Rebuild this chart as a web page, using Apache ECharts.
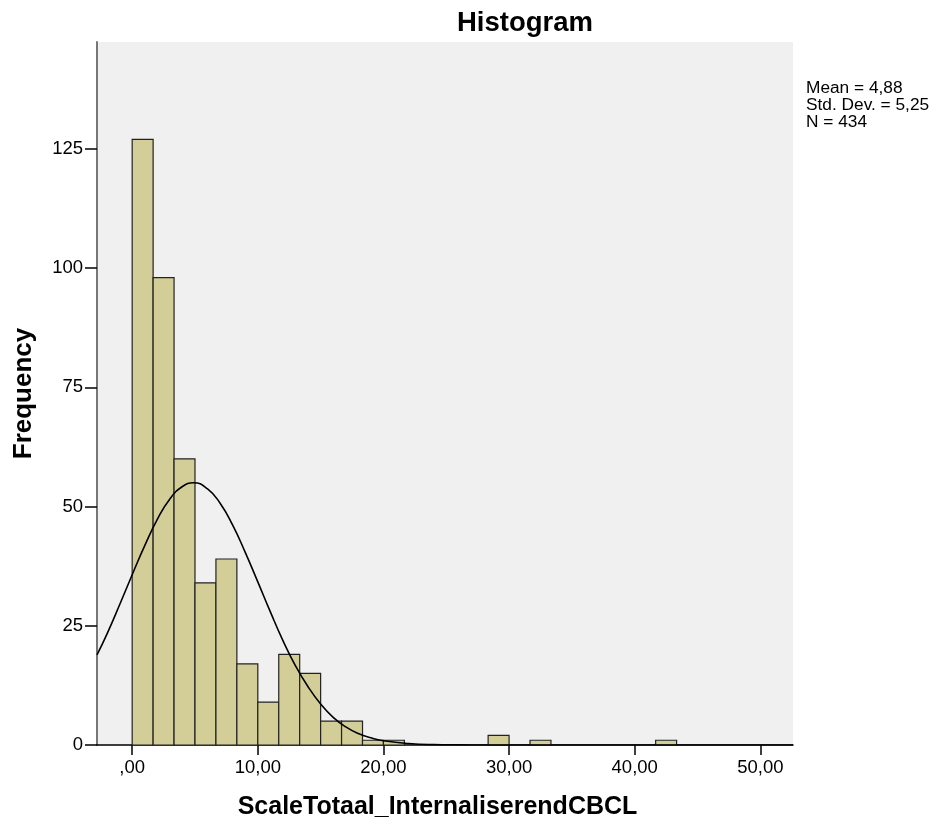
<!DOCTYPE html>
<html>
<head>
<meta charset="utf-8">
<script src="https://cdn.jsdelivr.net/npm/echarts@6/dist/echarts.min.js"></script>
<style>html,body{margin:0;padding:0;background:#fff}#c{width:942px;height:827px}</style>
</head>
<body>
<div id="c"></div>
<script>
// Histogram bins: [start, end] and frequency
var binStarts = [0, 1.667, 3.333, 5, 6.667, 8.333, 10, 11.667, 13.333, 15, 16.667, 18.333, 20, 28.333, 31.667, 41.667];
var binWidth = 1.667;
var frequencies = [127, 98, 60, 34, 39, 17, 9, 19, 15, 5, 5, 1, 1, 2, 1, 1];
// Normal curve
var curveX = [-2.8, -2, -1, 0, 1, 2, 3, 4, 4.88, 6, 7, 8, 9, 10, 11, 12, 13, 14, 15, 16, 17, 18, 19, 20, 22, 24, 26, 28, 35, 45, 52.6];
var curveY = [18.9, 23.3, 29.4, 35.7, 41.8, 47.3, 51.6, 54.2, 55.0, 53.7, 50.7, 46.1, 40.4, 34.2, 27.9, 21.9, 16.6, 12.2, 8.6, 5.8, 3.8, 2.4, 1.5, 0.9, 0.3, 0.07, 0.02, 0, 0, 0, 0];
var xTicks = [0, 10, 20, 30, 40, 50];
var xTickLabels = [',00', '10,00', '20,00', '30,00', '40,00', '50,00'];
var yTicks = [0, 25, 50, 75, 100, 125];
var statsLines = ['Mean = 4,88', 'Std. Dev. = 5,25', 'N = 434'];

var barData = binStarts.map(function (s, i) { return [s, s + binWidth, frequencies[i]]; });
var curveData = curveX.map(function (x, i) { return [x, curveY[i]]; });

var chart = echarts.init(document.getElementById('c'));
var font = '"Liberation Sans", Arial, sans-serif';
chart.setOption({
  backgroundColor: '#ffffff',
  animation: false,
  title: {
    text: 'Histogram', left: 520, top: 4, textAlign: 'center',
    textStyle: { fontFamily: font, fontSize: 27.5, fontWeight: 'bold', color: '#000' }
  },
  graphic: [{
    type: 'text', left: 806, top: 80,
    style: { text: statsLines.join('\n'), fontFamily: font, fontSize: 17.3, lineHeight: 17, fill: '#000' }
  }],
  grid: { left: 97, right: 149, top: 42, bottom: 82, show: true, backgroundColor: '#f0f0f0', borderWidth: 0, outerBoundsMode: 'none', containLabel: false },
  xAxis: {
    type: 'value', min: -2.8, max: 52.6,
    name: 'ScaleTotaal_InternaliserendCBCL', nameLocation: 'middle', nameGap: 50, nameMoveOverlap: false,
    nameTextStyle: { fontFamily: font, fontSize: 25, fontWeight: 'bold', color: '#000', padding: [0, 15, 0, 0] },
    axisLine: { show: true, onZero: false, lineStyle: { color: '#000', width: 1.5 } },
    axisTick: { show: true, length: 10, lineStyle: { color: '#000', width: 1.5 }, customValues: xTicks },
    axisLabel: {
      fontFamily: font, fontSize: 18.5, color: '#000', margin: 13, customValues: xTicks,
      formatter: function (v) { var i = xTicks.indexOf(v); return i >= 0 ? xTickLabels[i] : ''; }
    },
    splitLine: { show: false }
  },
  yAxis: {
    type: 'value', min: 0, max: 147.4,
    name: 'Frequency', nameLocation: 'middle', nameGap: 60, nameRotate: 90, nameMoveOverlap: false,
    nameTextStyle: { fontFamily: font, fontSize: 26, fontWeight: 'bold', color: '#000' },
    axisLine: { show: true, onZero: false, lineStyle: { color: '#777', width: 2 } },
    axisTick: { show: true, length: 12, lineStyle: { color: '#000', width: 1.5 }, customValues: yTicks },
    axisLabel: { fontFamily: font, fontSize: 18.5, color: '#000', margin: 14, customValues: yTicks },
    splitLine: { show: false }
  },
  series: [{
    type: 'custom',
    data: barData,
    encode: { x: [0, 1], y: 2 },
    renderItem: function (params, api) {
      var p0 = api.coord([api.value(0), api.value(2)]);
      var p1 = api.coord([api.value(1), 0]);
      return {
        type: 'rect',
        shape: { x: p0[0], y: p0[1], width: p1[0] - p0[0], height: p1[1] - p0[1] },
        style: { fill: '#d3ce97', stroke: '#222', lineWidth: 1.2 }
      };
    },
    z: 2
  }, {
    type: 'line',
    data: curveData,
    smooth: true,
    showSymbol: false,
    clip: true,
    lineStyle: { color: '#000', width: 1.6 },
    z: 3
  }]
});
</script>
</body>
</html>
